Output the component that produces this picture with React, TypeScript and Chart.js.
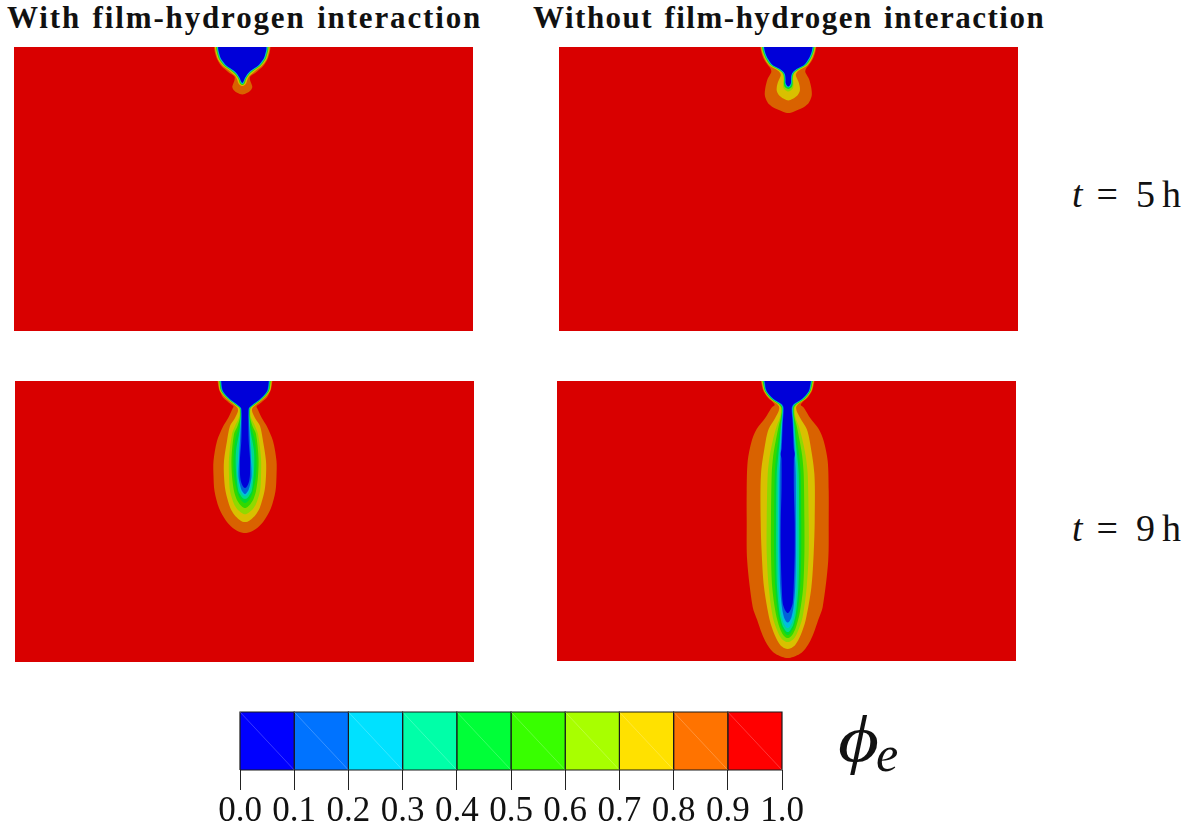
import React, { useEffect, useRef } from "react";
import { Chart, registerables } from "chart.js";

Chart.register(...registerables);

type Row = [number, number];

// Field colours by phi_e band, 0.0-0.1 ... 0.9-1.0
const fieldColors = ["#0000d9", "#0062d9", "#00c0d9", "#00d98f", "#00d930", "#30d900", "#8fd900", "#d9c000", "#d96200", "#d90000"];
const barColors = ["#0000ff", "#0073ff", "#00e1ff", "#00ffa8", "#00ff38", "#38ff00", "#a8ff00", "#ffe100", "#ff7300", "#ff0000"];
const barEdges = [0, 0.1, 0.2, 0.3, 0.4, 0.5, 0.6, 0.7, 0.8, 0.9, 1.0];

// Contours as [depth, half width]
const p1L09: Row[] = [[0,28.2],[5,27.5],[11,25.7],[15,23.7],[19.3,20.7],[23,16.5],[26,13],[28,9.5],[30,7.6],[32,7.6],[34,8],[37,9.2],[40,10],[42.5,9],[45,6.5],[47,2.5],[47.5,0]];
const p1L08: Row[] = [[0,27.3],[3,27],[11,24.9],[15,22.7],[19,19.3],[23,14],[26,10.5],[29,7],[33,5],[36,4],[38,2.5],[39,0]];
const p1L06: Row[] = [[0,26.2],[3,26],[11,23.8],[15,21.4],[19,18],[23,12.3],[26,8.5],[28.7,6],[32,3.8],[35,3],[37,2],[38,0]];
const p1L03: Row[] = [[0,25.2],[3,25],[11,22.8],[15,20.2],[18.7,17],[23,10.8],[26,7.2],[28.7,5],[32,3],[34,2.2],[36.5,1.2],[37,0]];
const p1L01: Row[] = [[0,24.2],[3,24],[11,21.7],[15,19],[18.7,15.7],[23.3,9],[26,6],[28.7,4],[32,2.2],[34,1.5],[36,0]];

const p2L09: Row[] = [[0,28],[5,27],[11,25],[15,22.7],[18.7,20],[22,17.5],[25,17],[28,18.5],[32,20.7],[41,23],[48,23.5],[53,22],[57,19.5],[61,14],[64,7],[65.7,2.5],[66,0]];
const p2L08: Row[] = [[0,27.2],[4,26.4],[9.3,24.6],[14,22.3],[17.7,19.6],[20,16.8],[22,13],[24.5,9.3],[27.7,7.5],[31,8.5],[35,10.3],[40,11.5],[44,11.5],[48,9.5],[51,6],[53,2],[53.5,0]];
const p2L07: Row[] = [[0,26.6],[4,25.9],[9.3,24],[14,21.6],[17.7,18.8],[20,15.5],[22,11.5],[25,7],[27.7,5.3],[32,4.8],[37,5.2],[41,4.8],[43.5,2.5],[44.5,0]];
const p2L05: Row[] = [[0,26],[4,25.3],[9.3,23.4],[14,20.9],[17.7,17.9],[20,14.5],[22,10.5],[25,6.5],[27.7,4.8],[32,4.2],[37,4.3],[40,3.4],[42,0]];
const p2L03: Row[] = [[0,25.2],[4,24.5],[9.3,22.7],[14,20],[17.7,17],[20,13.5],[22,9.5],[25,5.8],[27.7,4],[32,3.5],[36,3.4],[39,2.2],[40.5,0]];
const p2L01: Row[] = [[0,24.3],[4,23.6],[9.3,21.7],[14,19],[17.7,16],[20,12.3],[22,8.3],[25,4.8],[27.7,3.3],[32,2.8],[36,2.7],[38.5,1.5],[39.5,0]];

const p3L09: Row[] = [[0,27.4],[8.3,26],[12,24.4],[16.7,21.7],[20,18],[23.3,14],[25.5,11.5],[28.3,12.7],[36.7,16.7],[45,21.7],[60,28],[80,31.5],[95,31.5],[110,30.5],[127,26],[140,18.8],[146.7,12.5],[150.5,6.5],[151.8,2.5],[152,0]];
const p3L08: Row[] = [[0,26.6],[10,25],[18,18],[24,10.5],[27,7.5],[30,7],[37,10],[45,15],[60,18],[80,21],[95,21],[110,19.5],[127,14.7],[134,10.5],[138.5,6],[140.7,2.5],[141,0]];
const p3L07: Row[] = [[0,26],[10,24.3],[18,17.3],[24,9.5],[27,6],[32,5.3],[37,6.2],[45,10],[53,13],[77,16],[95,16],[110,15],[123,11],[128.5,7.5],[131.5,4],[133,1.5],[133.2,0]];
const p3L06: Row[] = [[0,25.6],[10,23.9],[18,16.9],[24,9],[27,5.4],[32,4.8],[37,5.2],[45,7.5],[53,11],[77,13.5],[95,13],[110,11],[118,8.5],[123,5.5],[126,2.5],[127,0]];
const p3L05: Row[] = [[0,25.2],[10,23.5],[18,16.5],[24,8.6],[27,5],[32,4.5],[37,4.8],[45,6],[60,10],[77,11.5],[95,11],[112,7.5],[118,4.8],[121,2.2],[122,0]];
const p3L04: Row[] = [[0,24.8],[10,23.1],[18,16.1],[24,8.2],[27,4.8],[32,4.2],[37,4.5],[50,5.5],[70,9],[90,9],[110,6.7],[115,4],[117.5,1.8],[118,0]];
const p3L03: Row[] = [[0,24.5],[10,22.8],[18,15.8],[24,7.8],[27,4.5],[32,4],[37,4.1],[50,5],[77,7],[90,8],[107,5.5],[112,3.5],[114.5,1.5],[115,0]];
const p3L02: Row[] = [[0,24.2],[10,22.5],[18,15.5],[24,7.5],[27,4.2],[32,3.7],[37,3.8],[50,4.5],[80,6],[95,6.5],[103,5.2],[109,3.5],[112,1.5],[113,0]];
const p3L01: Row[] = [[0,23.7],[10,22],[18,15],[24,7],[27,3.9],[32,3.4],[37,3.3],[60,3.7],[77,5],[93,5],[100,4.2],[104,2.8],[106.5,1.2],[107,0]];

const p4L09: Row[] = [[0,26.8],[10,24.3],[17.3,19.3],[21,15],[24,13],[26,15.5],[28,17],[37,22.5],[48,31],[60,36],[80,40],[110,41],[140,41],[180,40.5],[226,35],[239,30.5],[252,26],[260,22.5],[267.3,18],[272,13.5],[275,8],[276.7,3],[277,0]];
const p4L08: Row[] = [[0,26],[10,23.5],[18,17.5],[23,10.5],[26,8.5],[30,9],[37,12.5],[48,19],[60,22],[93,26.7],[140,27],[172,26],[206,23.7],[239,18],[254,13],[264,7.5],[267.3,3],[268,0]];
const p4L07: Row[] = [[0,25.5],[10,23.1],[18,17],[23,9.7],[26,7.3],[30,7],[37,8],[45,11],[60,15],[75,18],[93,20],[140,21],[172,21],[206,19],[235.7,15],[249,10.7],[257,6.7],[260.5,2.5],[261,0]];
const p4L06: Row[] = [[0,25],[10,22.7],[18,16.5],[23,9],[26,6.5],[30,6],[37,7],[45,9],[60,12],[75,14.5],[93,16],[140,16.7],[172,16.7],[206,15.5],[232,12],[247,8],[254,4.5],[256.7,1.5],[257,0]];
const p4L05: Row[] = [[0,24.6],[10,22.3],[18,16],[23,8.4],[26,6],[30,5.6],[37,6.3],[45,7.5],[60,9.5],[75,11.5],[93,13],[140,13.5],[172,13.5],[206,12.5],[232,9.8],[246,6.3],[251,3.5],[253.7,1.3],[254,0]];
const p4L04: Row[] = [[0,24.2],[10,22],[18,15.5],[23,7.8],[26,5.5],[30,5.3],[37,5.9],[45,6.8],[60,8],[75,9.5],[93,11],[140,11.5],[172,11.5],[206,10.7],[232,8.2],[244,5.4],[248.5,3],[250.7,1.2],[251,0]];
const p4L03: Row[] = [[0,23.9],[10,21.7],[18,15],[23,7.3],[26,5.1],[30,5],[37,5.5],[45,6.2],[60,7.3],[75,8.2],[93,9.3],[140,9.7],[172,9.7],[206,9],[232,6.8],[241,4.5],[245,2.6],[246.7,1],[247,0]];
const p4L02: Row[] = [[0,23.6],[10,21.4],[18,14.6],[23,6.9],[26,4.8],[30,4.6],[37,5.2],[45,5.6],[60,6.5],[75,7.3],[93,8],[140,8.2],[172,8.2],[206,7.5],[226,5.8],[236,3.8],[240,2],[241.3,0.8],[241.5,0]];
const p4L01: Row[] = [[0,23],[10,21],[18,14],[23,6],[27,4],[43,5],[67,6],[73,7],[78,6.2],[110,6.2],[140,7],[172,7],[206,6],[222,5],[228,3.2],[231,1.5],[232,0]];

const panels = [
  { left: 14, top: 47, width: 459, height: 284, xMin: -228.3, xMax: 230.7, yMax: 284,
    contours: [[p1L09, 8], [p1L08, 7], [p1L06, 5], [p1L03, 2], [p1L01, 0]] },
  { left: 559, top: 47, width: 459, height: 284, xMin: -229.3, xMax: 229.7, yMax: 284,
    contours: [[p2L09, 8], [p2L08, 7], [p2L07, 6], [p2L05, 4], [p2L03, 2], [p2L01, 0]] },
  { left: 15, top: 381, width: 459, height: 281, xMin: -230, xMax: 229, yMax: 281,
    contours: [[p3L09, 8], [p3L08, 7], [p3L07, 6], [p3L06, 5], [p3L05, 4], [p3L04, 3], [p3L03, 2], [p3L02, 1], [p3L01, 0]] },
  { left: 557, top: 381, width: 459, height: 280, xMin: -230.7, xMax: 228.3, yMax: 280,
    contours: [[p4L09, 8], [p4L08, 7], [p4L07, 6], [p4L06, 5], [p4L05, 4], [p4L04, 3], [p4L03, 2], [p4L02, 1], [p4L01, 0]] },
] as { left: number; top: number; width: number; height: number; xMin: number; xMax: number; yMax: number; contours: [Row[], number][] }[];

const serif = '"Liberation Serif", serif';

function outline(rows: Row[]) {
  const right = rows.map(([d, w]) => ({ x: w, y: d }));
  const left = rows.filter(([, w]) => w !== 0).reverse().map(([d, w]) => ({ x: -w, y: d }));
  return [...right, ...left];
}

function panelConfig(p: (typeof panels)[number]): any {
  const shape = (data: { x: number; y: number }[], color: string, tension: number, order: number) => ({
    data, backgroundColor: color, borderWidth: 0, pointRadius: 0, showLine: true, fill: "shape", tension, order,
  });
  const datasets = [
    shape(
      [{ x: p.xMin, y: 0 }, { x: p.xMax, y: 0 }, { x: p.xMax, y: p.yMax }, { x: p.xMin, y: p.yMax }],
      fieldColors[9], 0, 100,
    ),
    ...p.contours.map(([rows, c], i) => shape(outline(rows), fieldColors[c], 0.3, 50 - i)),
  ];
  return {
    type: "scatter",
    data: { datasets },
    options: {
      animation: false,
      responsive: false,
      layout: { padding: 0 },
      plugins: { legend: { display: false }, tooltip: { enabled: false } },
      scales: {
        x: { type: "linear", display: false, min: p.xMin, max: p.xMax },
        y: { type: "linear", display: false, min: 0, max: p.yMax, reverse: true },
      },
    },
  };
}

function barConfig(): any {
  const cells = barColors.map((color, i) => ({
    data: [
      { x: barEdges[i], y: 0 }, { x: barEdges[i + 1], y: 0 },
      { x: barEdges[i + 1], y: 1 }, { x: barEdges[i], y: 1 }, { x: barEdges[i], y: 0 },
    ],
    backgroundColor: color, borderColor: "#1a1a1a", borderWidth: 1.2, pointRadius: 0,
    showLine: true, fill: "shape", clip: false, order: 20,
  }));
  const seams = barColors.map((_, i) => ({
    data: [{ x: barEdges[i], y: 1 }, { x: barEdges[i + 1], y: 0 }],
    borderColor: "rgba(255,255,255,0.22)", borderWidth: 1, pointRadius: 0, showLine: true, fill: false, order: 10,
  }));
  return {
    type: "scatter",
    data: { datasets: [...cells, ...seams] },
    options: {
      animation: false,
      responsive: false,
      layout: { padding: { left: 40, right: 48, top: 12, bottom: 0 } },
      plugins: { legend: { display: false }, tooltip: { enabled: false } },
      scales: {
        x: {
          type: "linear", min: 0, max: 1,
          afterFit: (s: any) => { s.height = 56; },
          grid: { display: true, drawOnChartArea: false, drawTicks: true, tickLength: 20, tickColor: "#222", lineWidth: 1 },
          border: { display: false },
          ticks: {
            stepSize: 0.1, autoSkip: false, maxRotation: 0, padding: 1, color: "#111",
            font: { family: serif, size: 35 },
            callback: (v: any) => Number(v).toFixed(1),
          },
        },
        y: { type: "linear", display: false, min: 0, max: 1 },
      },
    },
  };
}

const abs = (left: number, top: number, size: number, extra: React.CSSProperties = {}): React.CSSProperties => ({
  position: "absolute", left, top, fontSize: size, fontFamily: serif, lineHeight: 1, whiteSpace: "nowrap", color: "#111", ...extra,
});

function TimeLabel({ top, hours }: { top: number; hours: string }) {
  return (
    <div style={abs(1072, top, 38)}>
      <i>t</i>
      <span style={{ marginLeft: 14 }}>=</span>
      <span style={{ marginLeft: 18 }}>{hours}</span>
      <span style={{ marginLeft: 7 }}>h</span>
    </div>
  );
}

export default function App() {
  const refs = useRef<(HTMLCanvasElement | null)[]>([]);
  const barRef = useRef<HTMLCanvasElement | null>(null);
  useEffect(() => {
    const charts = panels.map((p, i) => new Chart(refs.current[i] as HTMLCanvasElement, panelConfig(p)));
    charts.push(new Chart(barRef.current as HTMLCanvasElement, barConfig()));
    return () => charts.forEach((c) => c.destroy());
  }, []);
  return (
    <div style={{ position: "absolute", left: 0, top: 0, width: 1190, height: 826, overflow: "hidden", background: "#fff" }}>
      {panels.map((p, i) => (
        <canvas key={i} ref={(el) => { refs.current[i] = el; }} width={p.width} height={p.height}
          style={{ position: "absolute", left: p.left, top: p.top, width: p.width, height: p.height }} />
      ))}
      <canvas ref={barRef} width={630} height={126} style={{ position: "absolute", left: 200, top: 700, width: 630, height: 126 }} />
      <div style={abs(7, 2, 31, { fontWeight: 700, letterSpacing: 1.85, wordSpacing: 2 })}>With film-hydrogen interaction</div>
      <div style={abs(533, 2, 31, { fontWeight: 700, letterSpacing: 1.5, wordSpacing: 2 })}>Without film-hydrogen interaction</div>
      <TimeLabel top={175} hours="5" />
      <TimeLabel top={509} hours="9" />
      <div style={abs(838, 706, 66, { transform: "scaleX(1.2)", transformOrigin: "left top" })}><i>&#981;</i></div>
      <div style={abs(876, 729, 50)}><i>e</i></div>
    </div>
  );
}
